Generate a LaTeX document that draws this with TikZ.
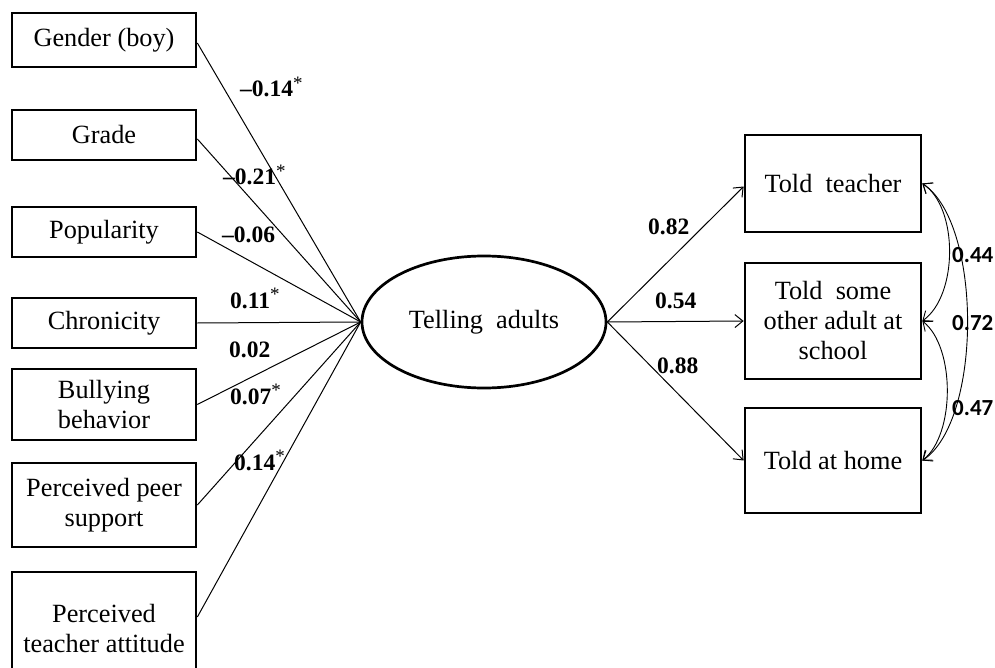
\documentclass[tikz,border=0pt]{standalone}
\usepackage{fontspec}
\setmainfont{Liberation Serif}
\newfontfamily\covfont{Carlito}
\usetikzlibrary{shapes.geometric,arrows.meta}
\tikzset{
  box/.style={draw, line width=2.7pt, inner sep=0pt, align=center,
    font=\fontsize{26.3}{30}\selectfont, minimum width=184pt},
  rbox/.style={draw, line width=2.7pt, inner sep=0pt, align=center,
    font=\fontsize{26.3}{30}\selectfont, minimum width=176pt},
  latent/.style={draw, ellipse, line width=2.7pt, inner sep=0pt,
    minimum width=244pt, minimum height=132pt, font=\fontsize{26.3}{30}\selectfont},
  path/.style={line width=1pt},
  arr/.style={line width=1pt, -{Straight Barb[length=8pt,width=13pt]}},
  cov/.style={line width=0.9pt, {Straight Barb[length=8pt,width=13pt]}-{Straight Barb[length=8pt,width=13pt]}},
  coef/.style={anchor=base west, inner sep=0pt, font=\fontsize{23.5}{23.5}\selectfont\bfseries},
  covlab/.style={anchor=base west, inner sep=0pt, font=\fontsize{23}{23}\selectfont\covfont\bfseries},
}
\newcommand{\sig}{\raisebox{0.32em}{\fontsize{19}{19}\selectfont\mdseries *}}
\begin{document}
\begin{tikzpicture}[x=1pt, y=-1pt]
\useasboundingbox (0,0) rectangle (995,668);
\clip (0,0) rectangle (995,668);
\fill[white] (0,0) rectangle (995,668);
% predictors
\node[box, minimum height=54pt] (gender) at (104,40) {Gender (boy)};
\node[box, minimum height=50pt] (grade) at (104,135) {Grade};
\node[box, minimum height=50pt] (pop) at (104,232) {Popularity};
\node[box, minimum height=50pt] (chron) at (104,323) {Chronicity};
\node[box, minimum height=71pt] (bully) at (104,404.5) {Bullying\\behavior};
\node[box, minimum height=84pt] (peer) at (104,505) {Perceived peer\\support};
\node[box, minimum height=112pt] (teach) at (104,628) {Perceived\\teacher attitude};
% latent
\node[latent] (lat) at (484,322) {Telling\ \ adults};
% outcomes
\node[rbox, minimum height=97pt] (tt) at (833,183.5) {Told\ \ teacher};
\node[rbox, minimum height=116pt] (ts) at (833,321) {Told\ \ some\\other adult at\\school};
\node[rbox, minimum height=105pt] (th) at (833,460.5) {Told\ at home};
% paths in
\draw[path] ([yshift=-3pt]gender.east) -- (lat.west);
\draw[path] ([yshift=-4pt]grade.east) -- (lat.west);
\draw[path] (pop.east) -- (lat.west);
\draw[path] (chron.east) -- (lat.west);
\draw[path] (bully.east) -- (lat.west);
\draw[path] (peer.east) -- (lat.west);
\draw[path] ([yshift=11pt]teach.east) -- (lat.west);
% paths out
\draw[arr] (lat.east) -- ([yshift=-3pt]tt.west);
\draw[arr] (lat.east) -- (ts.west);
\draw[arr] (lat.east) -- (th.west);
% covariances
\draw[cov] (tt.east) .. controls +(36,24) and +(36,-26) .. (ts.east);
\draw[cov] (ts.east) .. controls +(33,26) and +(33,-26) .. (th.east);
\draw[cov] (tt.east) .. controls +(60,40) and +(60,-40) .. (th.east);
% coefficients
\node[coef] (c1) at (240,97) {–0.14\sig};
\node[coef] (c2) at (223,185) {–0.21\sig};
\node[coef] (c3) at (222,243) {–0.06};
\node[coef] (c4) at (230,308) {0.11\sig};
\node[coef] (c5) at (229,357) {0.02};
\node[coef] (c6) at (230,404) {0.07\sig};
\node[coef] (c7) at (234,470) {0.14\sig};
\node[coef] (c8) at (648,235) {0.82};
\node[coef] (c9) at (655,308) {0.54};
\node[coef] (c10) at (657,373) {0.88};
\node[covlab] (k1) at (952,262) {0.44};
\node[covlab] (k2) at (952,330) {0.72};
\node[covlab] (k3) at (952,415) {0.47};
\end{tikzpicture}
\end{document}
